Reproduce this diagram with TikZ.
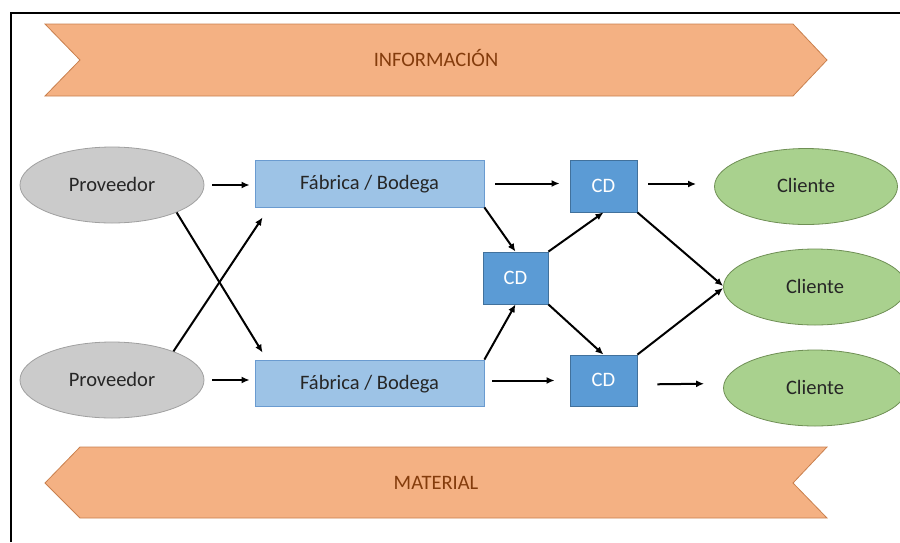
\documentclass[tikz,border=0pt]{standalone}
\usepackage{fontspec}
\setmainfont{Carlito}
\usetikzlibrary{shapes.geometric,arrows.meta,calc}

\definecolor{bannerfill}{HTML}{F4B183}
\definecolor{bannerline}{HTML}{C9804E}
\definecolor{bannertext}{HTML}{843C0C}
\definecolor{provfill}{HTML}{CBCBCB}
\definecolor{provline}{HTML}{A0A0A0}
\definecolor{fabfill}{HTML}{9DC3E6}
\definecolor{fabline}{HTML}{6A9BD0}
\definecolor{cdfill}{HTML}{5B9BD5}
\definecolor{cdline}{HTML}{41719C}
\definecolor{clifill}{HTML}{A9D18E}
\definecolor{cliline}{HTML}{6F8F55}

\tikzset{
  lbl/.style={font=\fontsize{20.5}{24}\selectfont, inner sep=0pt,
    text height=13.5pt, text depth=1.5pt},
  provnode/.style={lbl, ellipse, draw=provline, fill=provfill, line width=0.8pt,
    minimum width=184pt, minimum height=76pt, text=black!85},
  fabnode/.style={lbl, rectangle, draw=fabline, fill=fabfill, line width=0.8pt,
    minimum width=229pt, minimum height=47pt, text=black!85},
  cdnode/.style={lbl, rectangle, draw=cdline, fill=cdfill, line width=0.8pt,
    minimum width=67pt, minimum height=52pt, text=white},
  clinode/.style={lbl, ellipse, draw=cliline, fill=clifill, line width=0.8pt,
    minimum width=183pt, minimum height=76pt, text=black!85},
  banner/.style={draw=bannerline, fill=bannerfill, line width=0.8pt},
  bannerlbl/.style={lbl, text=bannertext},
  flow/.style={-{Latex[length=8pt,width=7pt]}, line width=2pt, black},
}

\begin{document}
\begin{tikzpicture}[x=1pt, y=-1pt]
  \useasboundingbox (0,0) rectangle (900,542);

  % outer frame (left and top edges)
  \draw[line width=1.8pt] (11,542) -- (11,13) -- (900,13);

  % information band (flows left to right)
  \draw[banner] (45,24) -- (793,24) -- (827,60) -- (793,96) -- (45,96) -- (80,60) -- cycle;
  \node[bannerlbl] (info) at (436,60) {INFORMACIÓN};

  % material band (flows right to left)
  \draw[banner] (80,447) -- (827,447) -- (793,483) -- (827,518) -- (80,518) -- (45,483) -- cycle;
  \node[bannerlbl] (mat) at (436,483) {MATERIAL};

  % suppliers
  \node[provnode] (p1) at (112,185) {Proveedor};
  \node[provnode] (p2) at (112,380) {Proveedor};

  % factories / warehouses
  \node[fabnode] (f1) at (369.5,183.5) {Fábrica / Bodega};
  \node[fabnode, minimum height=46pt] (f2) at (369.5,383) {Fábrica / Bodega};

  % distribution centres
  \node[cdnode] (cdt) at (603.5,186) {CD};
  \node[cdnode, minimum width=65pt] (cdm) at (515.5,278) {CD};
  \node[cdnode, minimum height=51pt] (cdb) at (603.5,380.5) {CD};

  % customers
  \node[clinode] (c1) at (806,186.5) {Cliente};
  \node[clinode] (c2) at (815,287) {Cliente};
  \node[clinode] (c3) at (815,388) {Cliente};

  % suppliers to factories
  \draw[flow, shorten <=8pt, shorten >=5pt] (p1.east) -- (p1.east -| f1.west);
  \draw[flow, shorten <=8pt, shorten >=5pt] (p2.east) -- (p2.east -| f2.west);
  \draw[flow] (p1.-23) -- ($(f2.north west)+(8,-7)$);
  \draw[flow] (p2.25) -- ($(f1.south west)+(8,10)$);

  % factories to distribution centres
  \draw[flow, shorten <=11pt, shorten >=10pt] (f1.east) -- (f1.east -| cdt.west);
  \draw[flow, shorten <=8pt, shorten >=15pt] (f2.east |- cdb.west) -- (cdb.west);
  \draw[flow] (f1.south east) -- (cdm.north);
  \draw[flow] (f2.north east) -- (cdm.south);

  % central distribution centre to the others
  \draw[flow] (cdm.north east) -- (cdt.south);
  \draw[flow] (cdm.south east) -- (cdb.north);

  % distribution centres to customers
  \draw[flow, shorten <=11pt, shorten >=18pt] ($(cdt.east)+(0,-2)$) -- ($(cdt.east -| c1.west)+(0,-2)$);
  \draw[flow, shorten <=20pt, shorten >=19pt] ($(cdb.east)+(0,4)$) -- ($(cdb.east -| c3.west)+(0,3)$);
  \draw[flow] (cdt.south east) -- ($(c2.west)+(0,-1)$);
  \draw[flow] (cdb.north east) -- ($(c2.west)+(0,1)$);
\end{tikzpicture}
\end{document}
